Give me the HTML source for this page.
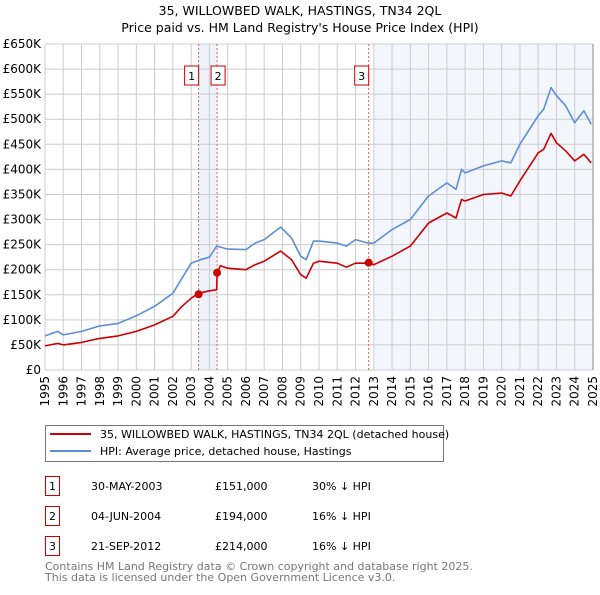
<!DOCTYPE html>
<html><head><meta charset="utf-8"><style>
body{margin:0;background:#fff;}
svg text{font-family:"DejaVu Sans","Liberation Sans",sans-serif;}
</style></head><body>
<svg width="600" height="590" viewBox="0 0 600 590" xmlns="http://www.w3.org/2000/svg">
<text x="300" y="15" text-anchor="middle" font-size="12.5" fill="#000">35, WILLOWBED WALK, HASTINGS, TN34 2QL</text>
<text x="300" y="32" text-anchor="middle" font-size="12.5" fill="#000">Price paid vs. HM Land Registry's House Price Index (HPI)</text>
<g id="plot"></g>
<g>
<rect x="45.5" y="425.5" width="398" height="36" fill="#fff" stroke="#777"/>
<line x1="50" y1="434" x2="91" y2="434" stroke="#cc0000" stroke-width="2"/>
<text x="100" y="438" font-size="11">35, WILLOWBED WALK, HASTINGS, TN34 2QL (detached house)</text>
<line x1="50" y1="451" x2="91" y2="451" stroke="#5b8fd4" stroke-width="2"/>
<text x="100" y="455" font-size="11">HPI: Average price, detached house, Hastings</text>
</g>
<g font-size="11">
<rect x="45.5" y="476.5" width="14" height="19" fill="#fff" stroke="#cc0000"/>
<text x="52.5" y="490" text-anchor="middle">1</text>
<text x="91" y="490">30-MAY-2003</text>
<text x="215" y="490">£151,000</text>
<text x="312" y="490">30% ↓ HPI</text>
<rect x="45.5" y="506.5" width="14" height="19" fill="#fff" stroke="#cc0000"/>
<text x="52.5" y="520" text-anchor="middle">2</text>
<text x="91" y="520">04-JUN-2004</text>
<text x="215" y="520">£194,000</text>
<text x="312" y="520">16% ↓ HPI</text>
<rect x="45.5" y="536.5" width="14" height="19" fill="#fff" stroke="#cc0000"/>
<text x="52.5" y="550" text-anchor="middle">3</text>
<text x="91" y="550">21-SEP-2012</text>
<text x="215" y="550">£214,000</text>
<text x="312" y="550">16% ↓ HPI</text>
</g>
<text x="45" y="570" font-size="11" fill="#777">Contains HM Land Registry data © Crown copyright and database right 2025.</text>
<text x="45" y="581" font-size="11" fill="#777">This data is licensed under the Open Government Licence v3.0.</text>
</svg>
<script>
const hpiYears=[1995,1995.7,1996,1997,1998,1999,2000,2001,2002,2002.5,2003,2003.5,2004,2004.4,2005,2006,2006.5,2007,2007.9,2008.5,2009,2009.3,2009.7,2010,2011,2011.5,2012,2012.7,2013,2014,2015,2016,2017,2017.5,2017.8,2018,2019,2020,2020.5,2021,2022,2022.3,2022.7,2023,2023.5,2024,2024.5,2024.9];
const hpiValues=[68,77,70,77,88,93,108,127,153,183,213,220,225,247,241,240,253,260,285,263,227,220,257,257,253,247,260,253,253,280,300,347,373,360,400,393,407,417,413,450,507,520,563,547,527,493,517,490];
const priceYears=[1995,1995.7,1996,1997,1998,1999,2000,2001,2002,2002.5,2003,2003.4,2004,2004.4,2004.42,2004.6,2005,2006,2006.5,2007,2007.9,2008.5,2009,2009.3,2009.7,2010,2011,2011.5,2012,2012.7,2013,2014,2015,2016,2017,2017.5,2017.8,2018,2019,2020,2020.5,2021,2022,2022.3,2022.7,2023,2023.5,2024,2024.5,2024.9];
const priceValues=[48,53,50,55,63,68,77,90,107,127,143,153,158,160,193,208,203,200,210,217,237,220,190,183,213,217,213,205,213,213,210,227,247,293,313,303,340,337,350,353,347,377,433,440,472,453,437,417,430,413];
const saleYears=[2003.41,2004.42,2012.72];
const saleValues=[151,194,214];
const saleLabels=["1","2","3"];
const yTicks=[0,50,100,150,200,250,300,350,400,450,500,550,600,650];
const yTickLabels=["£0","£50K","£100K","£150K","£200K","£250K","£300K","£350K","£400K","£450K","£500K","£550K","£600K","£650K"];
const xTicks=[1995,1996,1997,1998,1999,2000,2001,2002,2003,2004,2005,2006,2007,2008,2009,2010,2011,2012,2013,2014,2015,2016,2017,2018,2019,2020,2021,2022,2023,2024,2025];

const L=45,R=593,T=44,B=370;
const xs=y=>L+(y-1995)/30*(R-L);
const ys=v=>B-v/650*(B-T);
const NS='http://www.w3.org/2000/svg';
const g=document.getElementById('plot');
function mk(tag,attrs,parent){const e=document.createElementNS(NS,tag);for(const k in attrs)e.setAttribute(k,attrs[k]);(parent||g).appendChild(e);return e;}

let e=mk('rect',{x:xs(saleYears[0]),y:T,width:xs(saleYears[1])-xs(saleYears[0]),height:B-T,fill:'#eef2fb'});


e=mk('rect',{x:xs(2013),y:T,width:R-xs(2013),height:B-T,fill:'#f3f6fd'});



yTicks.forEach((v,i)=>{
 let l=mk('line',{x1:L,x2:R,y1:ys(v),y2:ys(v),stroke:'#ccc','stroke-width':1});
 
 
 let t=mk('text',{x:L-4,y:ys(v)+4,'text-anchor':'end','font-size':12});
 t.textContent=yTickLabels[i];
 
 
});
xTicks.forEach(y=>{
 let l=mk('line',{x1:xs(y),x2:xs(y),y1:T,y2:B,stroke:'#ccc','stroke-width':1});
 
 
 let t=mk('text',{x:0,y:0,'text-anchor':'end','font-size':12,transform:`translate(${xs(y)+4},${B+6}) rotate(-90)`});
 t.textContent=y;
 
 
});
e=mk('line',{x1:R,x2:R,y1:T,y2:B,stroke:'#888','stroke-width':1});



saleYears.forEach((y,i)=>{
 let l=mk('line',{x1:xs(y),x2:xs(y),y1:T,y2:B,stroke:'#e06060','stroke-width':1,'stroke-dasharray':'2,2'});
 
 
});

function path(xa,va,color,name){
 const d=xa.map((y,i)=>(i?'L':'M')+xs(y).toFixed(1)+','+ys(va[i]).toFixed(1)).join('');
 const p=mk('path',{d:d,fill:'none',stroke:color,'stroke-width':1.6,'stroke-linejoin':'round'});
 
 
}
path(hpiYears,hpiValues,'#5b8fd4','hpi-line');
path(priceYears,priceValues,'#cc0000','price-line');

saleYears.forEach((y,i)=>{
 let c=mk('circle',{cx:xs(y),cy:ys(saleValues[i]),r:4,fill:'#cc0000'});
 
 
 let bx=xs(y)-(i==0?7:(i==1?-1:7))-7;
 let r=mk('rect',{x:bx,y:66,width:14,height:19,fill:'#fff',stroke:'#cc0000'});
 
 
 let t=mk('text',{x:bx+7,y:80,'text-anchor':'middle','font-size':11});
 t.textContent=saleLabels[i];
 
 
});
</script>
</body></html>
